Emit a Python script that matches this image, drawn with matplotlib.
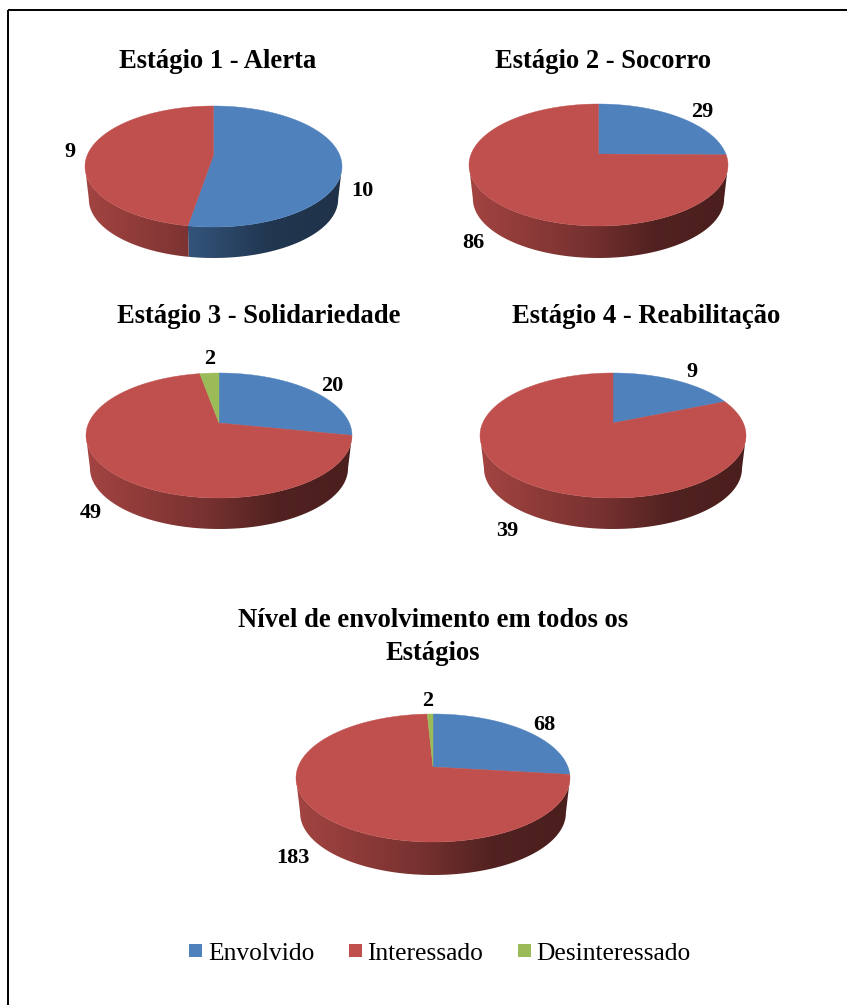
import numpy as np
import matplotlib
matplotlib.use("Agg")
import matplotlib.pyplot as plt
from matplotlib.patches import Polygon, Rectangle
from matplotlib.colors import to_rgb

W, H = 847, 1005
series = ["Envolvido", "Interessado", "Desinteressado"]
colors = ["#4F81BD", "#C0504D", "#9BBB59"]

titles = ["Estágio 1 - Alerta", "Estágio 2 - Socorro", "Estágio 3 - Solidariedade",
          "Estágio 4 - Reabilitação", "Nível de envolvimento em todos os\nEstágios"]
envolvido = [10, 29, 20, 9, 68]
interessado = [9, 86, 49, 39, 183]
desinteressado = [0, 0, 2, 0, 2]

# layout: centre x, centre y, half width, upper extent, lower extent, depth
layout = [(213.5, 155, 128.5, 49, 72, 31),
          (598.5, 154, 129.5, 50, 72, 32),
          (219, 423, 133, 50, 75, 31),
          (613, 423, 133, 50, 75, 31),
          (433, 767, 137, 53, 75, 33)]
title_xy = [(218, 61.5), (603, 61.5), (259, 316.5), (646, 316.5), (433, 637)]
label_xy = [[(362, 191), (70, 152), None],
            [(702, 112), (473, 243), None],
            [(332, 386), (91, 513), (210, 359)],
            [(692, 372), (507, 531), None],
            [(544, 725), (293, 858), (428, 701)]]

fig = plt.figure(figsize=(W / 100, H / 100), dpi=100)
ax = fig.add_axes([0, 0, 1, 1])
serif = ["Liberation Serif", "DejaVu Serif"]


def project(theta, cx, cy, a, up, lo, scale=1.0, dy=0.0):
    """Perspective projection of the pie circle; theta runs clockwise from 12 o'clock."""
    k = (lo - up) / (lo + up)
    b = up * (1 + k)
    a0 = a * np.sqrt(1 - k * k)
    u, v = np.sin(theta), np.cos(theta)
    d = 1 + k * v
    return cx + scale * a0 * u / d, cy + dy - scale * b * v / d


ramp_t = [0.0, 0.45, 0.72, 1.0]
ramp_f = [0.85, 0.62, 0.42, 0.39]

for i, (cx, cy, a, up, lo, depth) in enumerate(layout):
    vals = np.array([envolvido[i], interessado[i], desinteressado[i]], float)
    edges = np.concatenate([[0], np.cumsum(vals)]) / vals.sum() * 2 * np.pi
    k = (lo - up) / (lo + up)
    t0 = np.arccos(-k)
    t1 = 2 * np.pi - t0
    scale = 0.97
    dy = lo + depth - lo * scale
    # side wall, gradient-filled per slice
    for j, col in enumerate(colors):
        s, e = max(edges[j], t0), min(edges[j + 1], t1)
        if e <= s:
            continue
        th = np.linspace(s, e, 120)
        xt, yt = project(th, cx, cy, a, up, lo)
        xb, yb = project(th[::-1], cx, cy, a, up, lo, scale, dy)
        poly = Polygon(np.c_[np.r_[xt, xb], np.r_[yt, yb]], closed=True,
                       facecolor="none", edgecolor="none", transform=ax.transData)
        ax.add_patch(poly)
        grad = np.linspace(0, 1, 256)
        f = np.interp(grad, ramp_t, ramp_f)
        img = (np.array(to_rgb(col))[None, :] * f[:, None])[None, :, :]
        im = ax.imshow(img, extent=(cx - a, cx + a, cy + lo + depth + 2, cy - up),
                       aspect="auto", interpolation="bilinear", zorder=1)
        im.set_clip_path(poly)
    # top surface
    for j, col in enumerate(colors):
        if vals[j] == 0:
            continue
        th = np.linspace(edges[j], edges[j + 1], 240)
        x, y = project(th, cx, cy, a, up, lo)
        ax.add_patch(Polygon(np.c_[np.r_[cx, x], np.r_[cy, y]], closed=True, facecolor=col,
                             edgecolor=col, linewidth=0.3, zorder=2))
    tx, ty = title_xy[i]
    ax.text(tx, ty, titles[i], family=serif, fontweight="bold", fontsize=19.2,
            ha="center", va="center", linespacing=1.37, color="black", zorder=3)
    for j, pos in enumerate(label_xy[i]):
        if pos is not None:
            value = [envolvido, interessado, desinteressado][j][i]
            ax.text(pos[0], pos[1], str(value), family=serif, fontweight="bold", fontsize=16,
                    ha="center", va="center", color="black", zorder=3)

# legend
legend_box = [189, 349, 518]
legend_txt = [208, 367, 536]
for x0, xt, name, col in zip(legend_box, legend_txt, series, colors):
    ax.add_patch(Rectangle((x0, 944), 13, 13, facecolor=col, edgecolor="none", zorder=3))
    ax.text(xt, 954, name, family=serif, fontsize=18.4, ha="left", va="center", color="black", zorder=3)

ax.add_patch(Rectangle((8, 10), 842, 1000, facecolor="none", edgecolor="black", linewidth=1.4, zorder=4))
ax.set_xlim(0, W)
ax.set_ylim(H, 0)
ax.axis("off")
fig.savefig("out.png", dpi=100)
